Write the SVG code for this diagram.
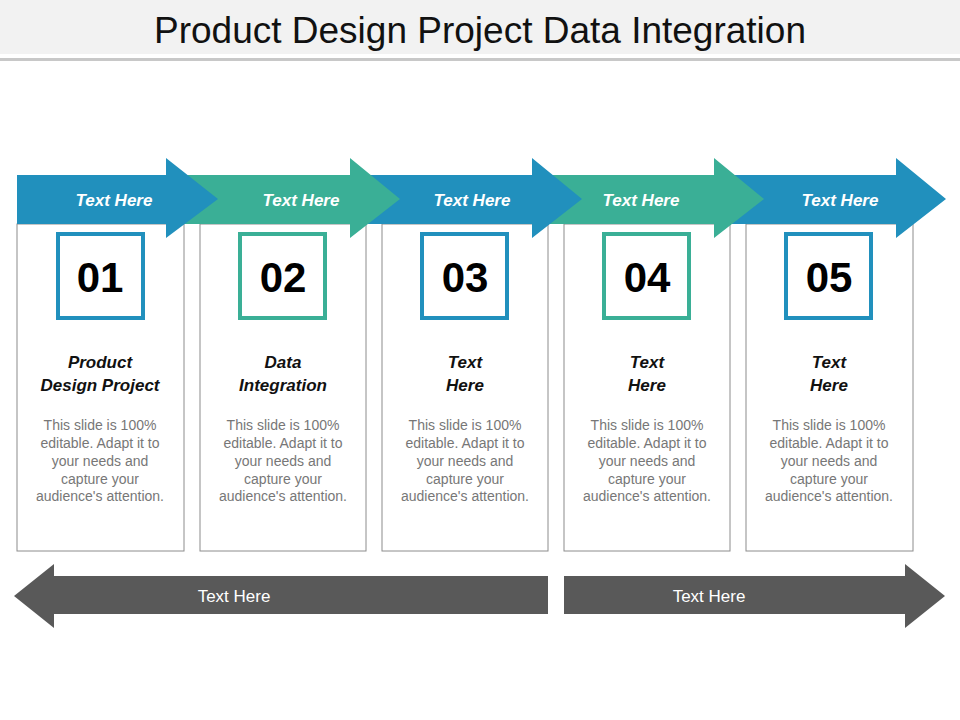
<svg xmlns="http://www.w3.org/2000/svg" width="960" height="720" viewBox="0 0 960 720">
<style>
.t{font-family:"Liberation Sans",Arial,sans-serif}
.box{fill:#fff;stroke:#8c8c8c;stroke-width:1}
.ah{font:italic bold 17px "Liberation Sans",Arial,sans-serif;fill:#fff;text-anchor:middle}
.num{font:bold 42px "Liberation Sans",Arial,sans-serif;fill:#000;text-anchor:middle}
.hd{font:italic bold 17px "Liberation Sans",Arial,sans-serif;fill:#111;text-anchor:middle}
.bd{font:14px "Liberation Sans",Arial,sans-serif;fill:#777;text-anchor:middle}
.bl{fill:#2190bd}.gr{fill:#3aaf96}
</style>
<rect x="0" y="0" width="960" height="54" fill="#f2f2f2"/>
<rect x="0" y="58" width="960" height="3" fill="#c8c8c8"/>
<text x="480" y="43" class="t" font-size="37" text-anchor="middle" fill="#111">Product Design Project Data Integration</text>
<g id="boxes">
<rect class="box" x="17" y="224" width="167" height="327"/>
<rect class="box" x="200" y="224" width="166" height="327"/>
<rect class="box" x="382" y="224" width="166" height="327"/>
<rect class="box" x="564" y="224" width="166" height="327"/>
<rect class="box" x="746" y="224" width="167" height="327"/>
</g>
<g id="top-arrows">
<polygon id="a5" class="bl" points="730,175 896,175 896,158 946,199 896,238 896,224 730,224"/>
<polygon id="a4" class="gr" points="547,175 714,175 714,158 764,199 714,238 714,224 547,224"/>
<polygon id="a3" class="bl" points="365,175 532,175 532,158 582,199 532,238 532,224 365,224"/>
<polygon id="a2" class="gr" points="183,175 350,175 350,158 400,199 350,238 350,224 183,224"/>
<polygon id="a1" class="bl" points="17,175 166,175 166,158 218,199 166,238 166,224 17,224"/>
<text class="ah" x="114" y="206">Text Here</text>
<text class="ah" x="301" y="206">Text Here</text>
<text class="ah" x="472" y="206">Text Here</text>
<text class="ah" x="641" y="206">Text Here</text>
<text class="ah" x="840" y="206">Text Here</text>
</g>
<g id="n1"><rect x="58" y="234" width="85" height="84" fill="#fff" stroke="#2190bd" stroke-width="4"/><text class="num" x="100" y="292">01</text>
<text class="hd" x="100" y="368">Product</text><text class="hd" x="100" y="391">Design Project</text>
<text class="bd" x="100" y="430">This slide is 100%</text><text class="bd" x="100" y="448">editable. Adapt it to</text><text class="bd" x="100" y="466">your needs and</text><text class="bd" x="100" y="484">capture your</text><text class="bd" x="100" y="501">audience's attention.</text></g>
<g id="n2"><rect x="240" y="234" width="85" height="84" fill="#fff" stroke="#3aaf96" stroke-width="4"/><text class="num" x="283" y="292">02</text>
<text class="hd" x="283" y="368">Data</text><text class="hd" x="283" y="391">Integration</text>
<text class="bd" x="283" y="430">This slide is 100%</text><text class="bd" x="283" y="448">editable. Adapt it to</text><text class="bd" x="283" y="466">your needs and</text><text class="bd" x="283" y="484">capture your</text><text class="bd" x="283" y="501">audience's attention.</text></g>
<g id="n3"><rect x="422" y="234" width="85" height="84" fill="#fff" stroke="#2190bd" stroke-width="4"/><text class="num" x="465" y="292">03</text>
<text class="hd" x="465" y="368">Text</text><text class="hd" x="465" y="391">Here</text>
<text class="bd" x="465" y="430">This slide is 100%</text><text class="bd" x="465" y="448">editable. Adapt it to</text><text class="bd" x="465" y="466">your needs and</text><text class="bd" x="465" y="484">capture your</text><text class="bd" x="465" y="501">audience's attention.</text></g>
<g id="n4"><rect x="604" y="234" width="85" height="84" fill="#fff" stroke="#3aaf96" stroke-width="4"/><text class="num" x="647" y="292">04</text>
<text class="hd" x="647" y="368">Text</text><text class="hd" x="647" y="391">Here</text>
<text class="bd" x="647" y="430">This slide is 100%</text><text class="bd" x="647" y="448">editable. Adapt it to</text><text class="bd" x="647" y="466">your needs and</text><text class="bd" x="647" y="484">capture your</text><text class="bd" x="647" y="501">audience's attention.</text></g>
<g id="n5"><rect x="786" y="234" width="85" height="84" fill="#fff" stroke="#2190bd" stroke-width="4"/><text class="num" x="829" y="292">05</text>
<text class="hd" x="829" y="368">Text</text><text class="hd" x="829" y="391">Here</text>
<text class="bd" x="829" y="430">This slide is 100%</text><text class="bd" x="829" y="448">editable. Adapt it to</text><text class="bd" x="829" y="466">your needs and</text><text class="bd" x="829" y="484">capture your</text><text class="bd" x="829" y="501">audience's attention.</text></g>
<g id="bottom-arrows">
<polygon fill="#595959" points="548,576 54,576 54,564 14,596 54,628 54,614 548,614"/>
<polygon fill="#595959" points="564,576 905,576 905,564 945,596 905,628 905,614 564,614"/>
<text class="t" x="234" y="602" font-size="17" fill="#fff" text-anchor="middle">Text Here</text>
<text class="t" x="709" y="602" font-size="17" fill="#fff" text-anchor="middle">Text Here</text>
</g>
</svg>
